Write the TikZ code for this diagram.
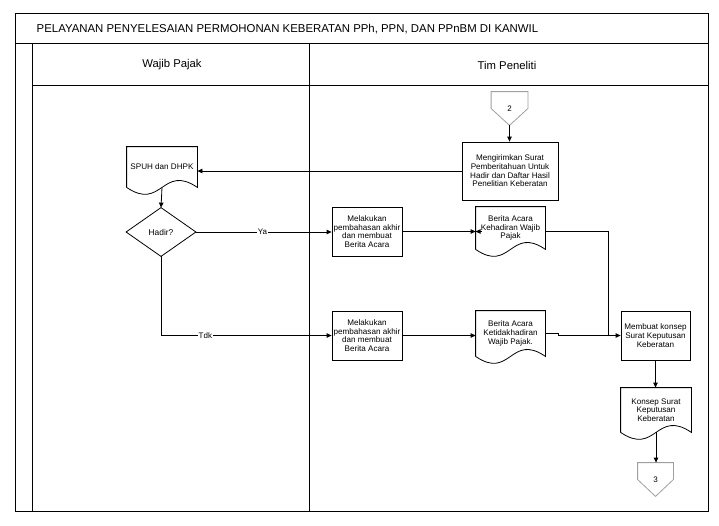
\documentclass[tikz,border=0pt]{standalone}
\usepackage{fontspec}
\setmainfont{Liberation Sans}
\usetikzlibrary{arrows.meta,calc}
\newcommand{\docoutline}[1]{\draw (#1.south west) -- (#1.north west) -- (#1.north east) -- (#1.south east) .. controls ($(#1.south)+(0,-24)$) and ($(#1.south)+(0,24)$) .. (#1.south west);}
\newcommand{\offpgoutline}[1]{\draw[gray!75] (#1.north west) -- (#1.north east) -- (#1.east) -- (#1.south) -- (#1.west) -- cycle;}
\begin{document}
\begin{tikzpicture}[x=1pt,y=-1pt,
  line width=0.8pt,
  arr/.style={-{Triangle[length=5pt,width=4.5pt]}},
  smallfont/.style={font=\fontsize{8.1}{8.7}\selectfont},
  proc/.style={draw, rectangle, align=center, smallfont, inner sep=1pt},
  docnode/.style={rectangle, align=center, smallfont, inner sep=0pt},
  lbl/.style={fill=white, inner sep=1pt, font=\fontsize{8}{9}\selectfont},
  hdr/.style={font=\fontsize{11.3}{13}\selectfont},
  offpg/.style={rectangle, inner sep=0pt, font=\fontsize{8}{9}\selectfont, minimum width=36pt, minimum height=33pt},
  frame/.style={line width=0.9pt}
]
\useasboundingbox (0,0) rectangle (719,525);

% swimlane frame
\draw[frame] (15,13) rectangle (708,511);
\draw[frame] (15,43) -- (708,43);
\draw[frame] (32,43) -- (32,511);
\draw[frame] (32,85) -- (708,85);
\draw[frame] (309,43) -- (309,511);
\node[font=\fontsize{11.4}{13}\selectfont, anchor=west] (title) at (33,29) {PELAYANAN PENYELESAIAN PERMOHONAN KEBERATAN PPh, PPN, DAN PPnBM DI KANWIL};
\node[hdr] (wp) at (172,65) {Wajib Pajak};
\node[hdr] (tp) at (507,65) {Tim Peneliti};

% nodes
\node[offpg] (c2) at (509.5,108.5) {2};
\offpgoutline{c2}
\node[proc, minimum width=96pt, minimum height=58pt] (mk) at (510,171) {Mengirimkan Surat\\Pemberitahuan Untuk\\Hadir dan Daftar Hasil\\Penelitian Keberatan};
\node[docnode, minimum width=70pt, minimum height=40pt] (spuh) at (162,167) {SPUH dan DHPK};
\docoutline{spuh}
\node[rectangle, minimum width=69pt, minimum height=48pt, inner sep=0pt, font=\fontsize{8.4}{9}\selectfont] (hadir) at (161,232) {Hadir?};
\draw (hadir.north) -- (hadir.east) -- (hadir.south) -- (hadir.west) -- cycle;
\node[proc, minimum width=70pt, minimum height=49pt] (m1) at (367,231.5) {Melakukan\\pembahasan akhir\\dan membuat\\Berita Acara};
\node[docnode, minimum width=69pt, minimum height=42pt] (bak) at (510.5,228) {Berita Acara\\Kehadiran Wajib\\Pajak};
\docoutline{bak}
\node[proc, minimum width=70pt, minimum height=49pt] (m2) at (367,335.5) {Melakukan\\pembahasan akhir\\dan membuat\\Berita Acara};
\node[docnode, minimum width=69pt, minimum height=45pt] (btk) at (510.5,333.5) {Berita Acara\\Ketidakhadiran\\Wajib Pajak.};
\docoutline{btk}
\node[proc, minimum width=69pt, minimum height=49pt] (mkon) at (655.5,335.5) {Membuat konsep\\Surat Keputusan\\Keberatan};
\node[docnode, minimum width=70pt, minimum height=44pt] (ksk) at (656,410) {Konsep Surat\\Keputusan\\Keberatan};
\docoutline{ksk}
\node[offpg, minimum width=35pt] (c3) at (655.5,479.5) {3};
\offpgoutline{c3}
\coordinate (j) at (608,335.5);

% connectors
\draw[arr] (c2.south) -- (c2.south |- mk.north);
\draw[arr] (mk.west) -- (mk.west -| spuh.east);
\draw[arr] (spuh.south) -- (hadir.north);
\draw[arr] (hadir.east) -- node[lbl, pos=0.49] {Ya} (hadir.east -| m1.west);
\draw[arr] (m1.east) -- (m1.east -| bak.west);
\draw[arr] ($(m1.east -| bak.west)+(6,0)$) -- (m1.east -| bak.west);
\draw (m1.east -| bak.east) -| (j);
\draw[arr] (j) -- (mkon.west);
\draw[arr] (hadir.south) |- node[lbl, pos=0.63] {Tdk} (m2.west);
\draw[arr] (m2.east) -- (m2.east -| btk.west);
\draw (btk.east) -- ++(13,0) |- (j);
\draw[arr] (mkon.south) -- (mkon.south |- ksk.north);
\draw[arr] (ksk.south) -- (ksk.south |- c3.north);
\end{tikzpicture}
\end{document}
